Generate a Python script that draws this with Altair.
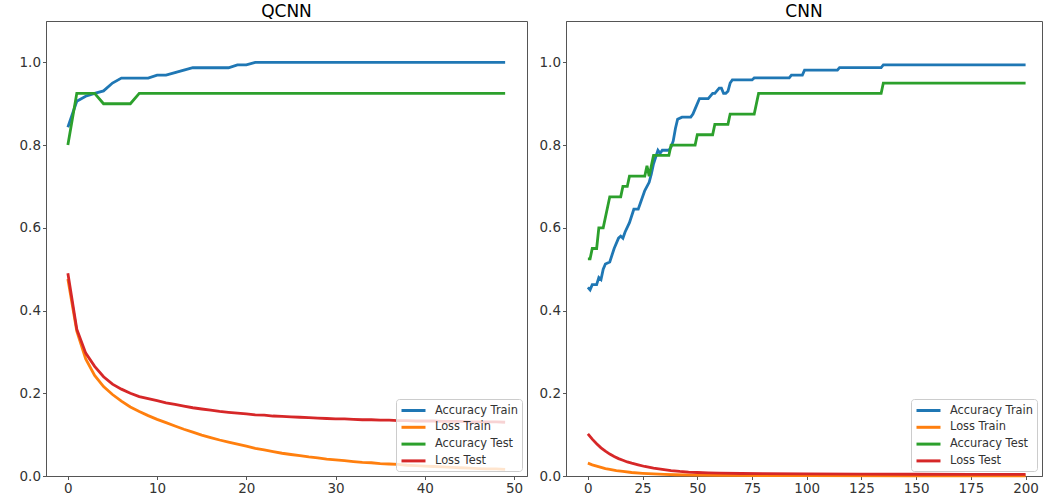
import altair as alt
import pandas as pd

SERIES = ["Accuracy Train", "Loss Train", "Accuracy Test", "Loss Test"]
COLORS = ["#1f77b4", "#ff7f0e", "#2ca02c", "#d62728"]
Y_TICKS = [0.0, 0.2, 0.4, 0.6, 0.8, 1.0]

# ---------------- QCNN (epochs 0..49) ----------------
q_epochs = list(range(50))
q_acc_train = [0.843, 0.906, 0.918, 0.925, 0.931, 0.950, 0.962, 0.962, 0.962, 0.962,
               0.969, 0.969, 0.975, 0.981, 0.987, 0.987, 0.987, 0.987, 0.987, 0.994,
               0.994, 1.0, 1.0, 1.0, 1.0, 1.0, 1.0, 1.0, 1.0, 1.0,
               1.0, 1.0, 1.0, 1.0, 1.0, 1.0, 1.0, 1.0, 1.0, 1.0,
               1.0, 1.0, 1.0, 1.0, 1.0, 1.0, 1.0, 1.0, 1.0, 1.0]
q_loss_train = [0.476, 0.350, 0.283, 0.243, 0.216, 0.197, 0.181, 0.167, 0.156, 0.146,
                0.137, 0.129, 0.121, 0.113, 0.106, 0.099, 0.093, 0.087, 0.082, 0.077,
                0.072, 0.067, 0.063, 0.059, 0.055, 0.052, 0.049, 0.046, 0.044, 0.041,
                0.039, 0.037, 0.035, 0.033, 0.032, 0.030, 0.029, 0.028, 0.026, 0.025,
                0.024, 0.023, 0.022, 0.021, 0.020, 0.019, 0.018, 0.017, 0.017, 0.016]
q_acc_test = [0.800, 0.925, 0.925, 0.925, 0.900, 0.900, 0.900, 0.900, 0.925, 0.925,
              0.925, 0.925, 0.925, 0.925, 0.925, 0.925, 0.925, 0.925, 0.925, 0.925,
              0.925, 0.925, 0.925, 0.925, 0.925, 0.925, 0.925, 0.925, 0.925, 0.925,
              0.925, 0.925, 0.925, 0.925, 0.925, 0.925, 0.925, 0.925, 0.925, 0.925,
              0.925, 0.925, 0.925, 0.925, 0.925, 0.925, 0.925, 0.925, 0.925, 0.925]
q_loss_test = [0.490, 0.355, 0.297, 0.265, 0.240, 0.222, 0.210, 0.200, 0.192, 0.187,
               0.182, 0.177, 0.173, 0.169, 0.165, 0.162, 0.159, 0.156, 0.154, 0.152,
               0.150, 0.148, 0.147, 0.145, 0.144, 0.143, 0.142, 0.141, 0.140, 0.139,
               0.138, 0.138, 0.137, 0.136, 0.136, 0.135, 0.135, 0.134, 0.134, 0.133,
               0.133, 0.133, 0.132, 0.132, 0.132, 0.131, 0.131, 0.131, 0.131, 0.130]

# ---------------- CNN (epochs 0..200), polyline vertices ----------------
c_acc_train_x = [0, 1, 2, 4, 5, 6, 7, 8, 10, 12, 14, 15, 16, 17, 19, 21, 23, 24, 26, 28,
                 29, 30, 32, 33, 34, 37, 38, 39, 40, 41, 43, 47, 48, 49, 51, 55, 57, 58,
                 60, 61, 62, 63, 64, 65, 66, 75, 76, 92, 93, 98, 99, 114, 115, 134, 135, 200]
c_acc_train_y = [0.456, 0.450, 0.4625, 0.4625, 0.480, 0.475, 0.500, 0.5125, 0.5175, 0.550,
                 0.575, 0.580, 0.575, 0.590, 0.6125, 0.645, 0.645, 0.660, 0.690, 0.710,
                 0.730, 0.755, 0.7875, 0.780, 0.7875, 0.7875, 0.795, 0.810, 0.840, 0.8625,
                 0.8675, 0.8675, 0.875, 0.8875, 0.9125, 0.9125, 0.925, 0.925,
                 0.9375, 0.9375, 0.925, 0.925, 0.930, 0.950, 0.9575, 0.9575, 0.9625,
                 0.9625, 0.969, 0.969, 0.981, 0.981, 0.9875, 0.9875, 0.99375, 0.99375]
c_loss_train_x = [0, 2, 4, 6, 8, 10, 13, 16, 20, 25, 30, 35, 40, 50, 60, 80, 100, 150, 200]
c_loss_train_y = [0.031, 0.027, 0.024, 0.021, 0.018, 0.016, 0.013, 0.011, 0.0085, 0.0065,
                  0.005, 0.004, 0.003, 0.002, 0.0015, 0.001, 0.0008, 0.0006, 0.0005]
c_acc_test_x = [0, 1, 2, 3, 4, 5, 7, 10, 15, 16, 18, 19, 26, 27, 28, 30, 37, 38, 49, 50,
                57, 58, 64, 65, 76, 77, 78, 134, 135, 200]
c_acc_test_y = [0.525, 0.525, 0.550, 0.550, 0.550, 0.600, 0.600, 0.675, 0.675, 0.700,
                0.700, 0.725, 0.725, 0.750, 0.725, 0.775, 0.775, 0.800, 0.800, 0.825,
                0.825, 0.850, 0.850, 0.875, 0.875, 0.900, 0.925, 0.925, 0.950, 0.950]
c_loss_test_x = [0, 2, 4, 6, 8, 10, 12, 14, 16, 18, 20, 23, 26, 30, 34, 38, 42, 46, 50,
                 55, 60, 70, 80, 100, 125, 150, 175, 200]
c_loss_test_y = [0.102, 0.089, 0.078, 0.068, 0.060, 0.053, 0.047, 0.042, 0.038, 0.034,
                 0.031, 0.027, 0.023, 0.019, 0.016, 0.013, 0.011, 0.0095, 0.0085,
                 0.0075, 0.0068, 0.006, 0.0055, 0.005, 0.0045, 0.0042, 0.004, 0.0038]


def long_table(parts):
    rows = []
    for name, xs, ys in parts:
        for i, (x, y) in enumerate(zip(xs, ys)):
            rows.append({"epoch": x, "value": y, "series": name, "idx": i})
    return pd.DataFrame(rows)


q_df = long_table([
    ("Accuracy Train", q_epochs, q_acc_train),
    ("Loss Train", q_epochs, q_loss_train),
    ("Accuracy Test", q_epochs, q_acc_test),
    ("Loss Test", q_epochs, q_loss_test),
])
c_df = long_table([
    ("Accuracy Train", c_acc_train_x, c_acc_train_y),
    ("Loss Train", c_loss_train_x, c_loss_train_y),
    ("Accuracy Test", c_acc_test_x, c_acc_test_y),
    ("Loss Test", c_loss_test_x, c_loss_test_y),
])

FONT = "DejaVu Sans"


def panel(df, title, xdom, xticks, width):
    return alt.Chart(df).mark_line(strokeWidth=2.8).encode(
        x=alt.X("epoch:Q",
                scale=alt.Scale(domain=xdom, nice=False, zero=False),
                axis=alt.Axis(values=xticks, format="d", title=None)),
        y=alt.Y("value:Q",
                scale=alt.Scale(domain=[0, 1.1], nice=False, zero=False),
                axis=alt.Axis(values=Y_TICKS, format=".1f", title=None)),
        color=alt.Color("series:N",
                        scale=alt.Scale(domain=SERIES, range=COLORS),
                        legend=alt.Legend(
                            title=None, orient="bottom-right", offset=5, padding=4,
                            fillColor="rgba(255,255,255,0.8)", strokeColor="#cccccc",
                            cornerRadius=3, symbolType="M-1,0H3", symbolSize=144,
                            symbolStrokeWidth=3, labelFontSize=11.4, labelFont=FONT,
                            labelColor="#333333", rowPadding=2.8, labelOffset=20)),
        order=alt.Order("idx:Q"),
    ).properties(
        width=width, height=455,
        title=alt.TitleParams(title, fontSize=17, font=FONT, fontWeight="normal",
                              color="black", offset=0, anchor="middle"),
    )


left = panel(q_df, "QCNN", [-2.45, 51.45], [0, 10, 20, 30, 40, 50], 481)
right = panel(c_df, "CNN", [-10, 207.5], [0, 25, 50, 75, 100, 125, 150, 175, 200], 476)

chart = alt.hconcat(left, right, spacing=10).resolve_legend(
    color="independent"
).properties(
    padding={"left": 18, "top": 2, "right": 0, "bottom": 0}
).configure_view(
    stroke="#555555", strokeWidth=1
).configure_axis(
    grid=False, domainColor="#555555", tickColor="#555555", labelColor="#333333",
    labelFont=FONT, labelFontSize=13.5, tickSize=3.5, labelPadding=2,
    labelFlush=False,
)

chart.save("out.html", embed_options={"renderer": "svg", "actions": False})
